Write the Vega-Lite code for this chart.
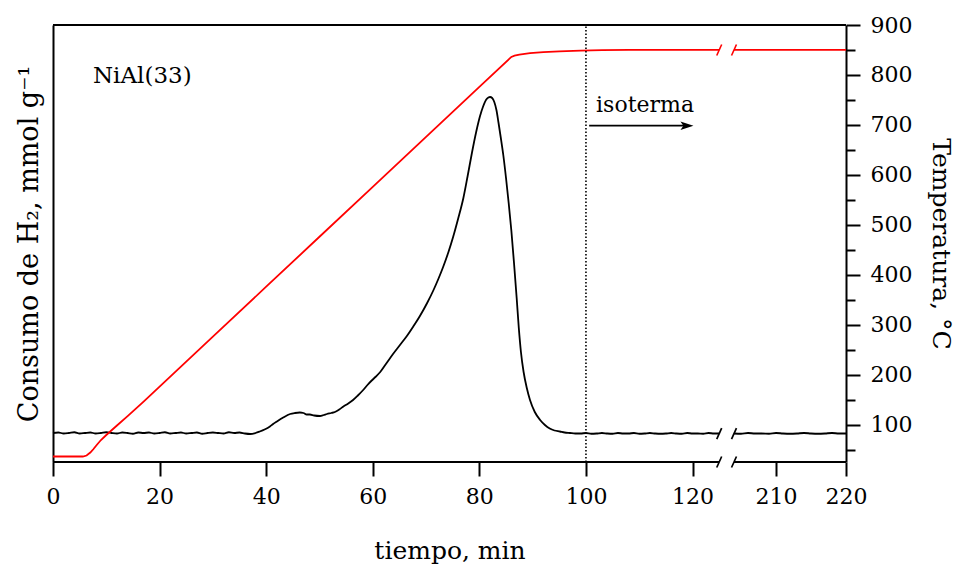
{
  "$schema": "https://vega.github.io/schema/vega-lite/v6.json",
  "width": 793,
  "height": 437,
  "autosize": {"type": "none"},
  "padding": {"left": 53, "top": 25, "right": 114, "bottom": 105},
  "background": "white",
  "config": {
    "view": {"stroke": null},
    "font": "DejaVu Serif",
    "axis": {
      "labelFont": "DejaVu Serif",
      "titleFont": "DejaVu Serif",
      "labelFontSize": 22,
      "titleFontSize": 25,
      "titleFontWeight": "normal",
      "labelColor": "black",
      "titleColor": "black",
      "domainColor": "black",
      "tickColor": "black",
      "domainWidth": 2,
      "tickWidth": 2,
      "grid": false
    }
  },
  "datasets": {
    "h2": [
      {"t": 0, "v": 0.0, "seg": "a"}, {"t": 1, "v": 0.01, "seg": "a"}, {"t": 2, "v": -0.01, "seg": "a"}, {"t": 3, "v": 0.0, "seg": "a"},
      {"t": 4, "v": 0.015, "seg": "a"}, {"t": 5, "v": -0.01, "seg": "a"}, {"t": 6, "v": 0.0, "seg": "a"}, {"t": 7, "v": 0.01, "seg": "a"},
      {"t": 8, "v": -0.01, "seg": "a"}, {"t": 9, "v": 0.0, "seg": "a"}, {"t": 10, "v": 0.015, "seg": "a"}, {"t": 11, "v": 0.0, "seg": "a"},
      {"t": 12, "v": -0.01, "seg": "a"}, {"t": 13, "v": 0.01, "seg": "a"}, {"t": 14, "v": 0.0, "seg": "a"}, {"t": 15, "v": -0.015, "seg": "a"},
      {"t": 16, "v": 0.01, "seg": "a"}, {"t": 17, "v": 0.0, "seg": "a"}, {"t": 18, "v": 0.01, "seg": "a"}, {"t": 19, "v": -0.01, "seg": "a"},
      {"t": 20, "v": 0.0, "seg": "a"}, {"t": 21, "v": 0.015, "seg": "a"}, {"t": 22, "v": -0.01, "seg": "a"}, {"t": 23, "v": 0.0, "seg": "a"},
      {"t": 24, "v": 0.01, "seg": "a"}, {"t": 25, "v": -0.01, "seg": "a"}, {"t": 26, "v": 0.0, "seg": "a"}, {"t": 27, "v": 0.01, "seg": "a"},
      {"t": 28, "v": -0.015, "seg": "a"}, {"t": 29, "v": 0.0, "seg": "a"}, {"t": 30, "v": 0.01, "seg": "a"}, {"t": 31, "v": 0.0, "seg": "a"},
      {"t": 32, "v": -0.01, "seg": "a"}, {"t": 33, "v": 0.015, "seg": "a"}, {"t": 34, "v": 0.0, "seg": "a"}, {"t": 35, "v": 0.01, "seg": "a"},
      {"t": 36, "v": -0.01, "seg": "a"}, {"t": 37, "v": -0.02, "seg": "a"}, {"t": 38, "v": 0.0, "seg": "a"}, {"t": 38.8, "v": 0.03, "seg": "a"},
      {"t": 39.7, "v": 0.07, "seg": "a"}, {"t": 40.7, "v": 0.13, "seg": "a"}, {"t": 41.3, "v": 0.18, "seg": "a"}, {"t": 42, "v": 0.23, "seg": "a"},
      {"t": 43.2, "v": 0.31, "seg": "a"}, {"t": 44.5, "v": 0.38, "seg": "a"}, {"t": 45.4, "v": 0.4, "seg": "a"}, {"t": 46.3, "v": 0.41, "seg": "a"},
      {"t": 47, "v": 0.4, "seg": "a"}, {"t": 47.6, "v": 0.37, "seg": "a"}, {"t": 48.2, "v": 0.37, "seg": "a"}, {"t": 49, "v": 0.35, "seg": "a"},
      {"t": 50.1, "v": 0.34, "seg": "a"}, {"t": 50.8, "v": 0.36, "seg": "a"}, {"t": 51.4, "v": 0.38, "seg": "a"}, {"t": 52.2, "v": 0.4, "seg": "a"},
      {"t": 52.9, "v": 0.42, "seg": "a"}, {"t": 53.7, "v": 0.47, "seg": "a"}, {"t": 54.5, "v": 0.53, "seg": "a"}, {"t": 55.4, "v": 0.59, "seg": "a"},
      {"t": 56.3, "v": 0.66, "seg": "a"}, {"t": 57.2, "v": 0.75, "seg": "a"}, {"t": 58.2, "v": 0.86, "seg": "a"}, {"t": 59, "v": 0.96, "seg": "a"},
      {"t": 59.8, "v": 1.05, "seg": "a"}, {"t": 60.6, "v": 1.13, "seg": "a"}, {"t": 61.4, "v": 1.22, "seg": "a"}, {"t": 62.6, "v": 1.4, "seg": "a"},
      {"t": 63.8, "v": 1.58, "seg": "a"}, {"t": 65.1, "v": 1.76, "seg": "a"}, {"t": 66.4, "v": 1.94, "seg": "a"}, {"t": 67.6, "v": 2.13, "seg": "a"},
      {"t": 68.9, "v": 2.35, "seg": "a"}, {"t": 70.2, "v": 2.6, "seg": "a"}, {"t": 71.4, "v": 2.86, "seg": "a"}, {"t": 72.3, "v": 3.08, "seg": "a"},
      {"t": 73.2, "v": 3.32, "seg": "a"}, {"t": 74.2, "v": 3.62, "seg": "a"}, {"t": 75.1, "v": 3.93, "seg": "a"}, {"t": 76, "v": 4.28, "seg": "a"},
      {"t": 77, "v": 4.7, "seg": "a"}, {"t": 77.8, "v": 5.14, "seg": "a"}, {"t": 78.6, "v": 5.6, "seg": "a"}, {"t": 79.4, "v": 6.02, "seg": "a"},
      {"t": 80.1, "v": 6.33, "seg": "a"}, {"t": 80.7, "v": 6.53, "seg": "a"}, {"t": 81.3, "v": 6.67, "seg": "a"}, {"t": 81.7, "v": 6.71, "seg": "a"},
      {"t": 82, "v": 6.72, "seg": "a"}, {"t": 82.4, "v": 6.7, "seg": "a"}, {"t": 82.8, "v": 6.62, "seg": "a"}, {"t": 83.2, "v": 6.46, "seg": "a"},
      {"t": 83.6, "v": 6.2, "seg": "a"}, {"t": 84, "v": 5.92, "seg": "a"}, {"t": 84.5, "v": 5.55, "seg": "a"}, {"t": 85, "v": 5.1, "seg": "a"},
      {"t": 85.5, "v": 4.6, "seg": "a"}, {"t": 86, "v": 4.05, "seg": "a"}, {"t": 86.5, "v": 3.4, "seg": "a"}, {"t": 87, "v": 2.7, "seg": "a"},
      {"t": 87.4, "v": 2.1, "seg": "a"}, {"t": 87.8, "v": 1.62, "seg": "a"}, {"t": 88.3, "v": 1.22, "seg": "a"}, {"t": 88.9, "v": 0.9, "seg": "a"},
      {"t": 89.5, "v": 0.66, "seg": "a"}, {"t": 90.4, "v": 0.42, "seg": "a"}, {"t": 91.4, "v": 0.26, "seg": "a"}, {"t": 92.3, "v": 0.16, "seg": "a"},
      {"t": 93.2, "v": 0.09, "seg": "a"}, {"t": 94.1, "v": 0.05, "seg": "a"}, {"t": 95.1, "v": 0.03, "seg": "a"}, {"t": 96, "v": 0.01, "seg": "a"},
      {"t": 97, "v": 0.0, "seg": "a"}, {"t": 98, "v": -0.01, "seg": "a"}, {"t": 99, "v": -0.01, "seg": "a"}, {"t": 100, "v": 0.0, "seg": "a"},
      {"t": 101, "v": -0.015, "seg": "a"}, {"t": 102, "v": -0.01, "seg": "a"}, {"t": 103, "v": 0.0, "seg": "a"}, {"t": 104, "v": -0.01, "seg": "a"},
      {"t": 105, "v": -0.015, "seg": "a"}, {"t": 106, "v": 0.0, "seg": "a"}, {"t": 107, "v": -0.01, "seg": "a"}, {"t": 108, "v": -0.01, "seg": "a"},
      {"t": 109, "v": 0.0, "seg": "a"}, {"t": 110, "v": -0.015, "seg": "a"}, {"t": 111, "v": -0.01, "seg": "a"}, {"t": 112, "v": 0.0, "seg": "a"},
      {"t": 113, "v": -0.01, "seg": "a"}, {"t": 114, "v": -0.015, "seg": "a"}, {"t": 115, "v": -0.01, "seg": "a"}, {"t": 116, "v": 0.0, "seg": "a"},
      {"t": 117, "v": -0.01, "seg": "a"}, {"t": 118, "v": -0.015, "seg": "a"}, {"t": 119, "v": 0.0, "seg": "a"}, {"t": 120, "v": -0.01, "seg": "a"},
      {"t": 121, "v": -0.01, "seg": "a"}, {"t": 122, "v": -0.015, "seg": "a"}, {"t": 123, "v": 0.0, "seg": "a"}, {"t": 124, "v": -0.01, "seg": "a"},
      {"t": 125, "v": -0.01, "seg": "a"},
      {"t": 204, "v": -0.01, "seg": "b"}, {"t": 205, "v": -0.015, "seg": "b"}, {"t": 206, "v": 0.0, "seg": "b"}, {"t": 207, "v": -0.01, "seg": "b"},
      {"t": 208, "v": -0.01, "seg": "b"}, {"t": 209, "v": -0.015, "seg": "b"}, {"t": 210, "v": 0.0, "seg": "b"}, {"t": 211, "v": -0.01, "seg": "b"},
      {"t": 212, "v": -0.015, "seg": "b"}, {"t": 213, "v": -0.01, "seg": "b"}, {"t": 214, "v": 0.0, "seg": "b"}, {"t": 215, "v": -0.01, "seg": "b"},
      {"t": 216, "v": -0.015, "seg": "b"}, {"t": 217, "v": -0.01, "seg": "b"}, {"t": 218, "v": 0.0, "seg": "b"}, {"t": 219, "v": -0.01, "seg": "b"},
      {"t": 220, "v": -0.01, "seg": "b"}
    ],
    "temp": [
      {"t": 0, "T": 36, "seg": "a"}, {"t": 5.6, "T": 36, "seg": "a"}, {"t": 6.3, "T": 38, "seg": "a"}, {"t": 7.0, "T": 44, "seg": "a"},
      {"t": 7.6, "T": 51, "seg": "a"}, {"t": 8.2, "T": 59, "seg": "a"}, {"t": 9.0, "T": 69, "seg": "a"}, {"t": 10, "T": 79, "seg": "a"},
      {"t": 12, "T": 98, "seg": "a"}, {"t": 14, "T": 117, "seg": "a"}, {"t": 17, "T": 146, "seg": "a"}, {"t": 20, "T": 176, "seg": "a"},
      {"t": 30, "T": 276, "seg": "a"}, {"t": 40, "T": 376, "seg": "a"}, {"t": 50, "T": 476, "seg": "a"}, {"t": 60, "T": 576, "seg": "a"},
      {"t": 70, "T": 676, "seg": "a"}, {"t": 80, "T": 776, "seg": "a"}, {"t": 86, "T": 836, "seg": "a"}, {"t": 86.6, "T": 838.5, "seg": "a"},
      {"t": 87.5, "T": 840.5, "seg": "a"}, {"t": 89.5, "T": 843.5, "seg": "a"}, {"t": 92, "T": 845.5, "seg": "a"}, {"t": 95, "T": 847, "seg": "a"},
      {"t": 99, "T": 848.5, "seg": "a"}, {"t": 103, "T": 849.5, "seg": "a"}, {"t": 108, "T": 850, "seg": "a"}, {"t": 125, "T": 850, "seg": "a"},
      {"t": 204, "T": 850, "seg": "b"}, {"t": 220, "T": 850, "seg": "b"}
    ],
    "brkBlack": [{"t": 125, "T": 82}, {"t": 204, "T": 82}, {"t": 125, "T": 25}, {"t": 204, "T": 25}],
    "brkRed": [{"t": 125, "T": 850}, {"t": 204, "T": 850}],
    "axisSeg": [{"t0": 0, "t1": 125, "T": 25}, {"t0": 204, "t1": 220, "T": 25}],
    "topSeg": [{"t0": 0, "t1": 220, "T": 900}],
    "iso": [{"t": 100, "T0": 25, "T1": 900}],
    "arrow": [{"t0": 100.6, "t1": 118.5, "T": 698.4}],
    "arrowHead": [{"t": 118.95, "T": 698.4}],
    "lblIso": [{"t": 101.9, "T": 726, "label": "isoterma"}],
    "lblSample": [{"t": 7.5, "T": 783, "label": "NiAl(33)"}]
  },
  "resolve": {"scale": {"y": "independent"}, "axis": {"x": "independent"}},
  "layer": [
    {
      "data": {"name": "h2"},
      "mark": {"type": "line", "color": "black", "strokeWidth": 1.8, "interpolate": "monotone"},
      "encoding": {
        "x": {
          "field": "t", "type": "quantitative",
          "scale": {"domain": [0, 125, 204, 220], "range": [0, 666.2, 681, 793], "zero": false, "nice": false},
          "axis": {"orient": "bottom", "values": [0, 20, 40, 60, 80, 100, 120, 210, 220], "domain": false, "tickSize": 14, "labelPadding": 10, "labelFlush": false, "labelOverlap": false, "title": "tiempo, min", "titlePadding": 31}
        },
        "y": {
          "field": "v", "type": "quantitative",
          "scale": {"domain": [-0.58, 8.16], "zero": false, "nice": false},
          "axis": {"orient": "left", "ticks": false, "labels": false, "domain": true, "title": "Consumo de H₂, mmol g⁻¹", "titlePadding": 10, "titleFontSize": 27}
        },
        "detail": {"field": "seg"}
      }
    },
    {
      "resolve": {"axis": {"y": "independent"}},
      "layer": [
        {
          "data": {"name": "temp"},
          "mark": {"type": "line", "color": "#ff0000", "strokeWidth": 1.8},
          "encoding": {
            "x": {
              "field": "t", "type": "quantitative",
              "axis": {"orient": "bottom", "values": [10, 30, 50, 70, 90, 110], "domain": false, "labels": false, "tickSize": 8, "title": null}
            },
            "y": {
              "field": "T", "type": "quantitative",
              "scale": {"domain": [25, 900], "zero": false, "nice": false},
              "axis": {"orient": "right", "values": [100, 200, 300, 400, 500, 600, 700, 800, 900], "domain": true, "tickSize": 14, "labelPadding": 10, "title": "Temperatura, °C", "titlePadding": 16, "titleAngle": 90}
            },
            "detail": {"field": "seg"}
          }
        },
        {
          "data": {"name": "iso"},
          "mark": {"type": "rule", "color": "black", "strokeWidth": 1.6, "strokeDash": [1.5, 2]},
          "encoding": {
            "x": {"field": "t", "type": "quantitative", "axis": null},
            "y": {"field": "T0", "type": "quantitative", "axis": {"orient": "right", "values": [50, 150, 250, 350, 450, 550, 650, 750, 850], "domain": false, "labels": false, "tickSize": 9, "title": null}},
            "y2": {"field": "T1"}
          }
        },
        {
          "data": {"name": "axisSeg"},
          "mark": {"type": "rule", "color": "black", "strokeWidth": 2},
          "encoding": {
            "x": {"field": "t0", "type": "quantitative", "axis": null},
            "x2": {"field": "t1"},
            "y": {"field": "T", "type": "quantitative", "axis": null}
          }
        },
        {
          "data": {"name": "topSeg"},
          "mark": {"type": "rule", "color": "black", "strokeWidth": 2},
          "encoding": {
            "x": {"field": "t0", "type": "quantitative", "axis": null},
            "x2": {"field": "t1"},
            "y": {"field": "T", "type": "quantitative", "axis": null}
          }
        },
        {
          "data": {"name": "brkRed"},
          "mark": {"type": "point", "shape": "M-0.45,1L0.45,-1", "size": 121, "filled": false, "stroke": "#ff0000", "strokeWidth": 1.6, "opacity": 1},
          "encoding": {
            "x": {"field": "t", "type": "quantitative", "axis": null},
            "y": {"field": "T", "type": "quantitative", "axis": null}
          }
        },
        {
          "data": {"name": "brkBlack"},
          "mark": {"type": "point", "shape": "M-0.45,1L0.45,-1", "size": 121, "filled": false, "stroke": "black", "strokeWidth": 1.7, "opacity": 1},
          "encoding": {
            "x": {"field": "t", "type": "quantitative", "axis": null},
            "y": {"field": "T", "type": "quantitative", "axis": null}
          }
        },
        {
          "data": {"name": "arrow"},
          "mark": {"type": "rule", "color": "black", "strokeWidth": 1.8},
          "encoding": {
            "x": {"field": "t0", "type": "quantitative", "axis": null},
            "x2": {"field": "t1"},
            "y": {"field": "T", "type": "quantitative", "axis": null}
          }
        },
        {
          "data": {"name": "arrowHead"},
          "mark": {"type": "point", "shape": "M1,0L-1,-0.65L-0.55,0L-1,0.65Z", "size": 169, "filled": true, "color": "black", "opacity": 1},
          "encoding": {
            "x": {"field": "t", "type": "quantitative", "axis": null},
            "y": {"field": "T", "type": "quantitative", "axis": null}
          }
        },
        {
          "data": {"name": "lblIso"},
          "mark": {"type": "text", "font": "DejaVu Serif", "fontSize": 22, "align": "left", "baseline": "alphabetic", "color": "black"},
          "encoding": {
            "x": {"field": "t", "type": "quantitative", "axis": null},
            "y": {"field": "T", "type": "quantitative", "axis": null},
            "text": {"field": "label"}
          }
        },
        {
          "data": {"name": "lblSample"},
          "mark": {"type": "text", "font": "DejaVu Serif", "fontSize": 23, "align": "left", "baseline": "alphabetic", "color": "black"},
          "encoding": {
            "x": {"field": "t", "type": "quantitative", "axis": null},
            "y": {"field": "T", "type": "quantitative", "axis": null},
            "text": {"field": "label"}
          }
        }
      ]
    }
  ]
}
